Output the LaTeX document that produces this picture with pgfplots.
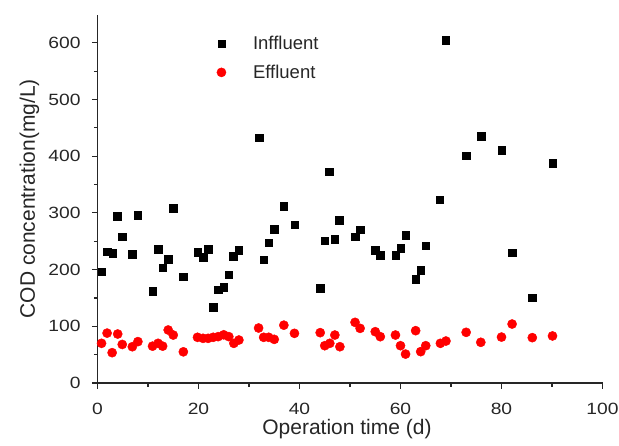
\documentclass[border=0pt]{standalone}
\usepackage{fontspec}
\setmainfont{Liberation Sans}
\newfontfamily\tickfont[FakeStretch=1.18]{Liberation Sans}
\usepackage{pgfplots}
\pgfplotsset{compat=1.18}
\begin{document}
\begin{tikzpicture}
\begin{axis}[
  scale only axis,
  width=505pt, height=368.5pt,
  xmin=0, xmax=100, ymin=0, ymax=650,
  axis x line*=bottom, axis y line*=left,
  axis line style={line width=1.1pt, color=black!85},
  xtick={0,20,...,100}, minor xtick={10,30,...,90},
  ytick={0,100,...,600}, minor ytick={50,150,...,550},
  tick align=outside,
  major tick length=5.5pt, minor tick length=3.5pt,
  tick style={line width=1.1pt, color=black!85},
  /pgf/number format/assume math mode=true,
  tick label style={font=\tickfont\fontsize{16.3}{19}\selectfont, text=black!85},
  xticklabel style={anchor=base, yshift=-25.8pt},
  yticklabel style={xshift=-8pt},
  xlabel={Operation time (d)},
  ylabel={COD concentration(mg/L)},
  label style={font=\fontsize{21}{25}\selectfont, text=black!85},
  xlabel style={at={(axis description cs:0.5,0)}, anchor=base, yshift=-51.3pt, xshift=-3pt},
  ylabel style={at={(axis description cs:-0.1238,0.5)}, anchor=base},
  legend style={draw=none, fill=none, at={(0.23,0.953)}, anchor=north west,
    font=\fontsize{18.5}{22}\selectfont, text=black!85, row sep=10pt,
    /tikz/every odd column/.append style={column sep=25pt}},
  legend cell align=left,
  clip=false,
]
\addplot[only marks, mark=square*, mark size=3.7pt, mark options={fill=black, draw=black}] coordinates {
(0.8,196) (1.9,231.6) (3.0,228.7) (3.9,294.5) (4.9,258) (6.9,227.5) (8.0,295.7)
(10.9,162) (12.0,235.7) (12.9,203.4) (14.0,218.7) (15.0,308) (17.0,187.5)
(19.8,230.5) (20.9,221.7) (21.9,236.3) (22.9,133.5) (23.9,165) (25.0,168.8)
(26.0,191) (26.9,224) (28.0,234) (32.0,432.6) (32.9,217) (33.9,247.4)
(35.0,271.6) (36.9,312) (39.0,279) (44.1,167) (45.0,251) (45.9,372.7)
(47.0,253.4) (47.9,287.5) (51.0,258) (52.0,270.4) (55.0,234.6) (56.0,225.7)
(59.0,225.7) (60.0,237.5) (61.0,260.5) (63.0,183.4) (64.0,199.3) (65.0,242)
(67.8,323.5) (68.9,604.4) (73.0,401) (76.0,435.6) (80.0,411) (82.1,229.8)
(86.1,150.5) (90.1,387.5)
};
\addlegendentry{Inffluent}
\addplot[only marks, mark=*, mark size=4.6pt, mark options={fill=red, draw=red}] coordinates {
(0.8,70) (1.9,88) (2.9,53.5) (4.0,86.4) (4.9,68) (6.9,64) (8.0,73)
(10.9,65) (12.0,70) (12.9,65) (14.0,93.5) (15.0,84.6) (17.0,55)
(19.8,80.6) (20.9,78.8) (21.9,78.8) (22.9,80.6) (23.9,81.8) (25.0,85)
(26.0,81.8) (27.0,70) (28.0,75.8) (31.9,97) (32.9,80.6) (33.9,80.6)
(35.0,77) (36.9,102) (39.0,87.6) (44.1,88.8) (45.0,65.8) (46.0,70)
(47.0,84.6) (48.0,64) (51.0,107) (52.0,96.4) (55.0,90.5) (56.0,81.7)
(59.0,84.6) (60.0,65.8) (61.0,51) (63.0,92.3) (64.0,55.3) (65.0,65.8)
(67.9,70) (69.0,74) (73.0,89.4) (75.9,71.8) (80.0,81) (82.1,104)
(86.1,80) (90.1,83)
};
\addlegendentry{Effluent}
\end{axis}
\pgfresetboundingbox
\path[use as bounding box] (-97.5pt,-62pt) rectangle (521.5pt,383pt);
\end{tikzpicture}
\end{document}
